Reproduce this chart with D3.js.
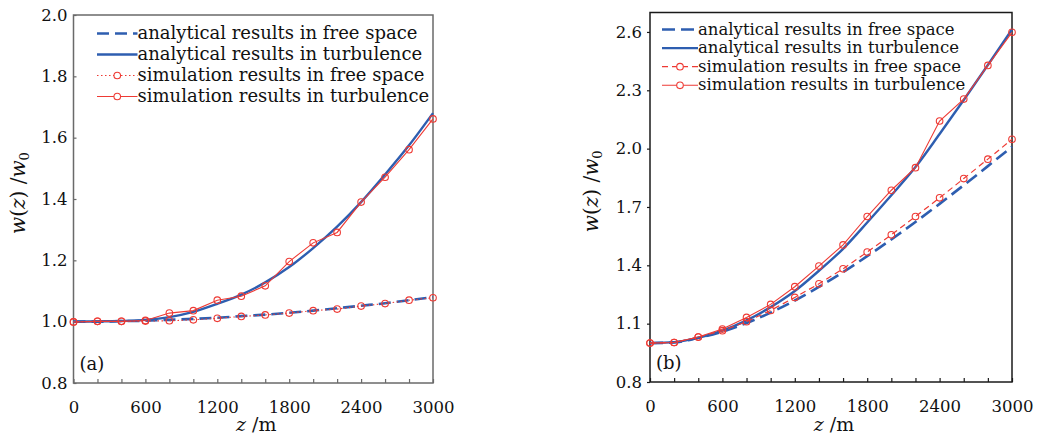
<!DOCTYPE html>
<html>
<head>
<meta charset="utf-8">
<script src="https://cdn.jsdelivr.net/npm/d3@7"></script>
<style>
  body { margin: 0; background: #fff; }
  svg { display: block; font-family: "DejaVu Serif", serif; }
</style>
</head>
<body>
<script>
const width = 1041,
      height = 438;

// propagation distance z (m), sampled every 200 m
const zValues = [0, 200, 400, 600, 800, 1000, 1200, 1400, 1600, 1800, 2000, 2200, 2400, 2600, 2800, 3000];
const xTickLabels = [0, 600, 1200, 1800, 2400, 3000];
const yTicksA = [0.8, 1.0, 1.2, 1.4, 1.6, 1.8, 2.0];
const yTicksB = [0.8, 1.1, 1.4, 1.7, 2.0, 2.3, 2.6];

// panel (a): w(z)/w0
const anaFreeA = [1.000, 1.000, 1.002, 1.003, 1.006, 1.009, 1.013, 1.018, 1.023, 1.029, 1.036, 1.044, 1.052, 1.060, 1.070, 1.080];
const anaTurbA = [1.000, 1.001, 1.002, 1.006, 1.015, 1.032, 1.058, 1.088, 1.128, 1.178, 1.240, 1.310, 1.390, 1.480, 1.575, 1.680];
const simFreeA = [0.999, 1.001, 1.001, 1.002, 1.003, 1.006, 1.011, 1.017, 1.022, 1.028, 1.036, 1.041, 1.051, 1.059, 1.070, 1.078];
const simTurbA = [0.999, 1.001, 1.001, 1.004, 1.028, 1.036, 1.070, 1.083, 1.117, 1.196, 1.257, 1.291, 1.390, 1.471, 1.561, 1.661];

// panel (b): w(z)/w0
const anaFreeB = [1.000, 1.003, 1.027, 1.059, 1.103, 1.157, 1.219, 1.289, 1.365, 1.447, 1.533, 1.623, 1.716, 1.812, 1.910, 2.010];
const anaTurbB = [1.000, 1.005, 1.027, 1.064, 1.117, 1.185, 1.268, 1.372, 1.485, 1.620, 1.760, 1.905, 2.075, 2.250, 2.430, 2.613];
const simFreeB = [1.000, 1.003, 1.031, 1.064, 1.110, 1.168, 1.235, 1.305, 1.382, 1.468, 1.557, 1.651, 1.747, 1.846, 1.946, 2.048];
const simTurbB = [1.000, 1.003, 1.031, 1.072, 1.132, 1.199, 1.290, 1.396, 1.505, 1.651, 1.786, 1.902, 2.142, 2.255, 2.428, 2.598];

const legendLabels = ["analytical results in free space",
                      "analytical results in turbulence",
                      "simulation results in free space",
                      "simulation results in turbulence"];

const blue = "#2e5eb0",
      red = "#ee3a34";

const svg = d3.select("body")
              .append("svg")
              .attr("width", width)
              .attr("height", height);

function drawPanel(p) {
    const x = d3.scaleLinear().domain([0, 3000]).range([p.left, p.right]);
    const y = d3.scaleLinear().domain(p.yDomain).range([p.bottom, p.top]);
    const g = svg.append("g");

    // x axis, ticks pointing inwards every 200 m
    const gx = g.append("g")
                .attr("transform", `translate(0,${p.bottom})`)
                .call(d3.axisBottom(x)
                        .tickValues(zValues)
                        .tickSize(-4)
                        .tickSizeOuter(0)
                        .tickPadding(18)
                        .tickFormat(d => xTickLabels.includes(d) ? d : ""));
    gx.select(".domain").remove();
    gx.attr("font-family", null).attr("font-size", 16.5).attr("fill", null);
    gx.selectAll("line").attr("stroke", p.frame).attr("stroke-width", 1.2);
    gx.selectAll("text").attr("fill", "#111");

    const gy = g.append("g")
                .attr("transform", `translate(${p.left},0)`)
                .call(d3.axisLeft(y)
                        .tickValues(p.yTicks)
                        .tickSize(p.yTickSize)
                        .tickSizeOuter(0)
                        .tickPadding(p.yTickSize > 0 ? 5 : 6)
                        .tickFormat(d3.format(".1f")));
    gy.select(".domain").remove();
    gy.attr("font-family", null).attr("font-size", 16.5).attr("fill", null);
    gy.selectAll("line").attr("stroke", p.frame).attr("stroke-width", 1.2);
    gy.selectAll("text").attr("fill", "#111");

    // frame
    g.append("rect")
     .attr("x", p.left)
     .attr("y", p.top)
     .attr("width", p.right - p.left)
     .attr("height", p.bottom - p.top)
     .attr("fill", "none")
     .attr("stroke", p.frame)
     .attr("stroke-width", 1.5);

    const smooth = d3.line().x((d, i) => x(zValues[i])).y(d => y(d)).curve(d3.curveMonotoneX),
          straight = d3.line().x((d, i) => x(zValues[i])).y(d => y(d));

    p.series.forEach(s => {
        g.append("path")
         .attr("d", (s.sim ? straight : smooth)(s.values))
         .attr("fill", "none")
         .attr("stroke", s.color)
         .attr("stroke-width", s.width)
         .attr("stroke-dasharray", s.dash);
        if (s.sim) {
            g.append("g")
             .selectAll("circle")
             .data(s.values)
             .enter()
             .append("circle")
             .attr("cx", (d, i) => x(zValues[i]))
             .attr("cy", d => y(d))
             .attr("r", 3.3)
             .attr("fill", "none")
             .attr("stroke", s.color)
             .attr("stroke-width", 1.1);
        }
    });

    // legend
    const lg = g.append("g");
    p.series.forEach((s, i) => {
        const ly = p.legend.y + i * p.legend.dy;
        lg.append("line")
          .attr("x1", p.legend.x0).attr("x2", p.legend.x1)
          .attr("y1", ly).attr("y2", ly)
          .attr("stroke", s.color)
          .attr("stroke-width", s.width)
          .attr("stroke-dasharray", s.dash);
        if (s.sim) {
            lg.append("circle")
              .attr("cx", (p.legend.x0 + p.legend.x1) / 2)
              .attr("cy", ly)
              .attr("r", 3.3)
              .attr("fill", "#fff")
              .attr("stroke", s.color)
              .attr("stroke-width", 1.1);
        }
        lg.append("text")
          .attr("x", p.legend.x1)
          .attr("y", ly + 5)
          .attr("font-size", p.legend.size)
          .attr("fill", "#111")
          .text(legendLabels[i]);
    });

    // panel tag
    g.append("text")
     .attr("x", p.left + 6)
     .attr("y", p.bottom - 13)
     .attr("font-size", 18)
     .attr("fill", "#111")
     .text(p.tag);

    // axis titles
    const yl = g.append("text")
                .attr("transform", `translate(${p.yLabelX},${(p.top + p.bottom) / 2 - 6}) rotate(-90)`)
                .attr("text-anchor", "middle")
                .attr("font-size", 20)
                .attr("fill", "#111");
    yl.append("tspan").attr("font-style", "italic").text("w");
    yl.append("tspan").text("(");
    yl.append("tspan").attr("font-style", "italic").text("z");
    yl.append("tspan").text(") /");
    yl.append("tspan").attr("font-style", "italic").text("w");
    yl.append("tspan").attr("font-size", 13).attr("dy", 4).text("0");

    const xl = g.append("text")
                .attr("x", (p.left + p.right) / 2 + 3)
                .attr("y", 431)
                .attr("text-anchor", "middle")
                .attr("font-size", 19)
                .attr("fill", "#111");
    xl.append("tspan").attr("font-style", "italic").text("z");
    xl.append("tspan").text(" /m");
}

drawPanel({
    left: 73.5, right: 433, top: 15, bottom: 383,
    yDomain: [0.8, 2.0], yTicks: yTicksA, yTickSize: -3,
    frame: "#6a6a6a", tag: "(a)", yLabelX: 25,
    series: [
        {values: anaFreeA, color: blue, width: 2.6, dash: "12,6"},
        {values: anaTurbA, color: blue, width: 2.4, dash: null},
        {values: simFreeA, color: red, width: 1.1, dash: "1.5,2.5", sim: true},
        {values: simTurbA, color: red, width: 1.1, dash: null, sim: true}
    ],
    legend: {x0: 97, x1: 137.5, y: 33.5, dy: 21, size: 18}
});

drawPanel({
    left: 650, right: 1012, top: 12.5, bottom: 382,
    yDomain: [0.8, 2.7], yTicks: yTicksB, yTickSize: 3,
    frame: "#1a1a1a", tag: "(b)", yLabelX: 598,
    series: [
        {values: anaFreeB, color: blue, width: 2.6, dash: "13,6"},
        {values: anaTurbB, color: blue, width: 2.4, dash: null},
        {values: simFreeB, color: red, width: 1.2, dash: "6,4", sim: true},
        {values: simTurbB, color: red, width: 1.1, dash: null, sim: true}
    ],
    legend: {x0: 662, x1: 698, y: 29.5, dy: 18.6, size: 16.5}
});
</script>
</body>
</html>
